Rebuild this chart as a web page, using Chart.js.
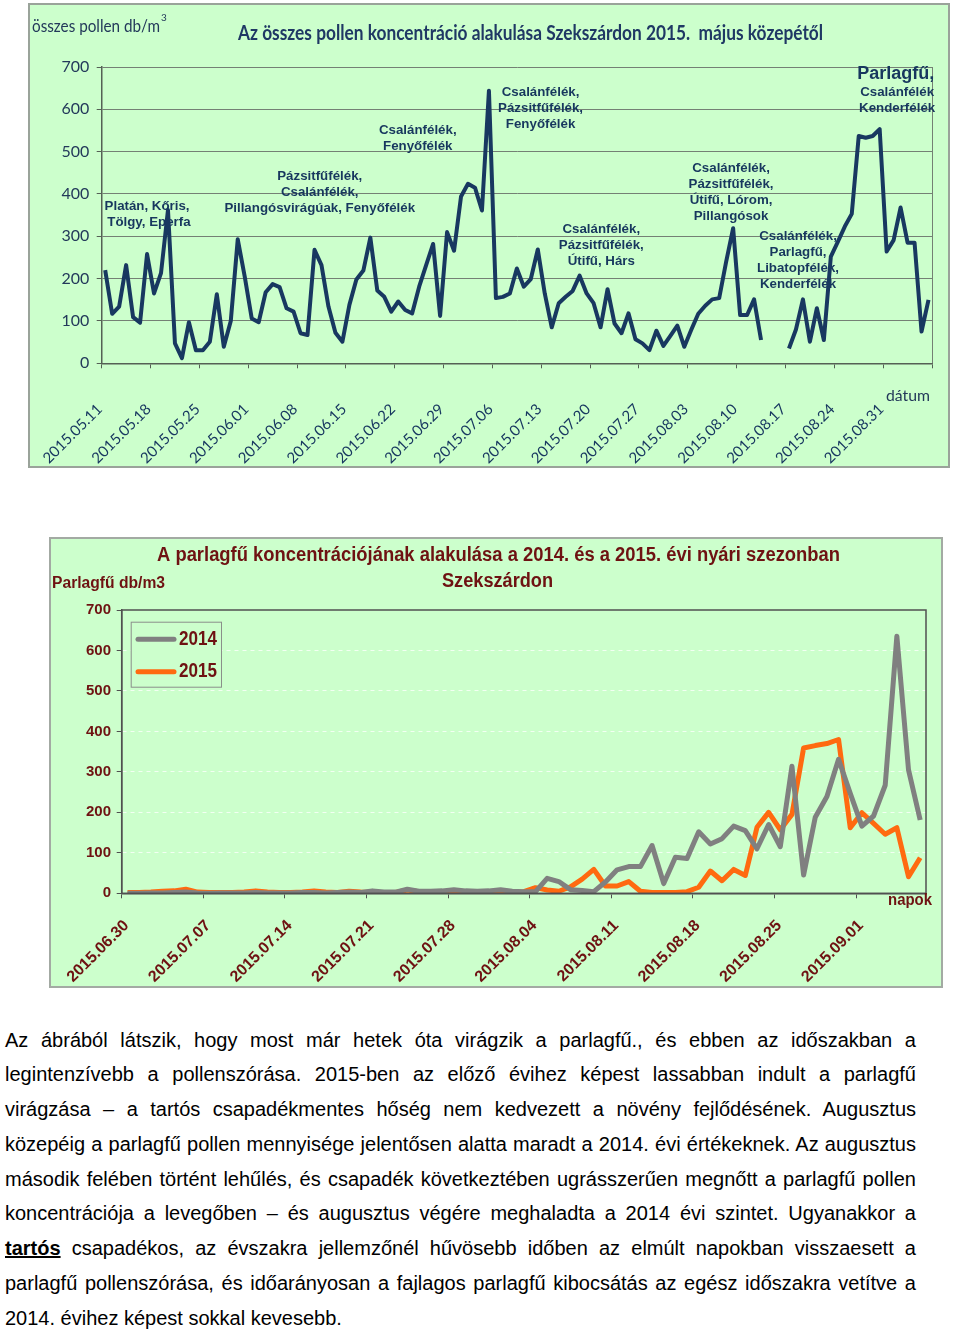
<!DOCTYPE html>
<html><head><meta charset="utf-8">
<script src="https://cdn.jsdelivr.net/npm/chart.js@4.4.1/dist/chart.umd.min.js"></script>
<style>
html,body{margin:0;padding:0;background:#fff;}
body{width:960px;height:1331px;position:relative;overflow:hidden;}
.box{position:absolute;box-sizing:border-box;}
#b1{left:28px;top:3px;width:922px;height:465px;border:2px solid #9aa39a;background:#ccffcc;}
#c1{position:absolute;left:28px;top:3px;}
#b2{left:49px;top:537px;width:894px;height:451px;border:2px solid #a3aaa3;background:#ccffcc;}
#c2{position:absolute;left:49px;top:537px;}
#txt{position:absolute;left:5px;top:1022.6px;width:911px;font-family:"Liberation Sans",Arial,sans-serif;font-size:20px;color:#000;}
#txt div{height:34.75px;line-height:34.75px;text-align:justify;text-align-last:justify;white-space:nowrap;}
#txt div.last{text-align-last:left;}
#txt b{text-decoration:underline;}
</style>
</head><body>
<div class="box" id="b1"></div>
<canvas id="c1" width="922" height="465"></canvas>
<div class="box" id="b2"></div>
<canvas id="c2" width="894" height="451"></canvas>
<div id="txt">
<div>Az ábrából látszik, hogy most már hetek óta virágzik a parlagfű., és ebben az időszakban a</div>
<div>legintenzívebb a pollenszórása. 2015-ben az előző évihez képest lassabban indult a parlagfű</div>
<div>virágzása – a tartós csapadékmentes hőség nem kedvezett a növény fejlődésének. Augusztus</div>
<div>közepéig a parlagfű pollen mennyisége jelentősen alatta maradt a 2014. évi értékeknek. Az augusztus</div>
<div>második felében történt lehűlés, és csapadék következtében ugrásszerűen megnőtt a parlagfű pollen</div>
<div>koncentrációja a levegőben – és augusztus végére meghaladta a 2014 évi szintet. Ugyanakkor a</div>
<div><b>tartós</b> csapadékos, az évszakra jellemzőnél hűvösebb időben az elmúlt napokban visszaesett a</div>
<div>parlagfű pollenszórása, és időarányosan a fajlagos parlagfű kibocsátás az egész időszakra vetítve a</div>
<div class="last">2014. évihez képest sokkal kevesebb.</div>
</div>
<script>
// ---------- DATA: chart 1 (összes pollen, 2015) ----------
const days1 = [
'2015.05.11','2015.05.12','2015.05.13','2015.05.14','2015.05.15','2015.05.16','2015.05.17','2015.05.18','2015.05.19','2015.05.20',
'2015.05.21','2015.05.22','2015.05.23','2015.05.24','2015.05.25','2015.05.26','2015.05.27','2015.05.28','2015.05.29','2015.05.30',
'2015.05.31','2015.06.01','2015.06.02','2015.06.03','2015.06.04','2015.06.05','2015.06.06','2015.06.07','2015.06.08','2015.06.09',
'2015.06.10','2015.06.11','2015.06.12','2015.06.13','2015.06.14','2015.06.15','2015.06.16','2015.06.17','2015.06.18','2015.06.19',
'2015.06.20','2015.06.21','2015.06.22','2015.06.23','2015.06.24','2015.06.25','2015.06.26','2015.06.27','2015.06.28','2015.06.29',
'2015.06.30','2015.07.01','2015.07.02','2015.07.03','2015.07.04','2015.07.05','2015.07.06','2015.07.07','2015.07.08','2015.07.09',
'2015.07.10','2015.07.11','2015.07.12','2015.07.13','2015.07.14','2015.07.15','2015.07.16','2015.07.17','2015.07.18','2015.07.19',
'2015.07.20','2015.07.21','2015.07.22','2015.07.23','2015.07.24','2015.07.25','2015.07.26','2015.07.27','2015.07.28','2015.07.29',
'2015.07.30','2015.07.31','2015.08.01','2015.08.02','2015.08.03','2015.08.04','2015.08.05','2015.08.06','2015.08.07','2015.08.08',
'2015.08.09','2015.08.10','2015.08.11','2015.08.12','2015.08.13','2015.08.14','2015.08.15','2015.08.16','2015.08.17','2015.08.18',
'2015.08.19','2015.08.20','2015.08.21','2015.08.22','2015.08.23','2015.08.24','2015.08.25','2015.08.26','2015.08.27','2015.08.28',
'2015.08.29','2015.08.30','2015.08.31','2015.09.01','2015.09.02','2015.09.03','2015.09.04','2015.09.05','2015.09.06'];
const pollen2015 = [
220,117,134,232,109,96,258,165,213,362,
47,12,97,31,31,51,163,39,100,293,
205,106,97,168,187,180,130,122,71,67,
268,232,134,72,51,138,198,219,297,172,
157,122,146,126,118,181,232,282,112,310,
266,394,424,415,361,644,154,157,165,224,
181,199,269,165,85,142,157,171,207,165,
142,85,175,94,71,118,57,47,31,77,
41,65,89,39,79,117,136,151,154,240,
319,114,114,151,55,null,null,null,35,80,
151,51,130,55,252,287,323,353,537,533,
537,553,264,291,368,285,285,75,150];
const ticks1 = ['2015.05.11','2015.05.18','2015.05.25','2015.06.01','2015.06.08','2015.06.15','2015.06.22','2015.06.29',
'2015.07.06','2015.07.13','2015.07.20','2015.07.27','2015.08.03','2015.08.10','2015.08.17','2015.08.24','2015.08.31'];
const yTicks = [0,100,200,300,400,500,600,700];

// ---------- DATA: chart 2 (parlagfű 2014 vs 2015) ----------
const days2 = [
'2015.06.30','2015.07.01','2015.07.02','2015.07.03','2015.07.04','2015.07.05','2015.07.06','2015.07.07','2015.07.08','2015.07.09',
'2015.07.10','2015.07.11','2015.07.12','2015.07.13','2015.07.14','2015.07.15','2015.07.16','2015.07.17','2015.07.18','2015.07.19',
'2015.07.20','2015.07.21','2015.07.22','2015.07.23','2015.07.24','2015.07.25','2015.07.26','2015.07.27','2015.07.28','2015.07.29',
'2015.07.30','2015.07.31','2015.08.01','2015.08.02','2015.08.03','2015.08.04','2015.08.05','2015.08.06','2015.08.07','2015.08.08',
'2015.08.09','2015.08.10','2015.08.11','2015.08.12','2015.08.13','2015.08.14','2015.08.15','2015.08.16','2015.08.17','2015.08.18',
'2015.08.19','2015.08.20','2015.08.21','2015.08.22','2015.08.23','2015.08.24','2015.08.25','2015.08.26','2015.08.27','2015.08.28',
'2015.08.29','2015.08.30','2015.08.31','2015.09.01','2015.09.02','2015.09.03','2015.09.04','2015.09.05','2015.09.06'];
const ragweed2014 = [
0,0,1,1,2,3,1,0,1,1,
1,2,1,1,1,2,2,1,2,3,
2,6,3,3,10,5,5,6,9,6,
5,6,9,5,4,4,37,29,9,7,
4,28,58,66,66,118,24,89,86,152,
122,135,166,155,110,170,115,314,45,188,
239,331,247,166,191,267,635,305,181];
const ragweed2015 = [
2,2,3,5,6,10,3,2,2,2,
3,6,3,2,2,3,6,3,2,5,
3,2,2,2,8,4,3,3,3,3,
3,3,3,3,4,14,8,5,16,35,
59,18,18,29,5,2,2,2,4,15,
55,31,59,44,163,200,157,195,359,365,
370,380,162,199,173,146,162,41,88];
const ticks2 = ['2015.06.30','2015.07.07','2015.07.14','2015.07.21','2015.07.28','2015.08.04','2015.08.11','2015.08.18','2015.08.25','2015.09.01'];
const series2 = ['2014','2015'];

// ---------- texts ----------
const notes1 = [
 {n:6.0,  v:370,   lines:['Platán, Kőris,',' Tölgy, Eperfa']},
 {n:30.75,v:442,   lines:['Pázsitfűfélék,','Csalánfélék,','Pillangósvirágúak, Fenyőfélék']},
 {n:44.8, v:549.5, lines:['Csalánfélék,','Fenyőfélék']},
 {n:62.4, v:639,   lines:['Csalánfélék,','Pázsitfűfélék,','Fenyőfélék']},
 {n:71.1, v:317,   lines:['Csalánfélék,','Pázsitfűfélék,','Útifű, Hárs']},
 {n:89.7, v:461,   lines:['Csalánfélék,','Pázsitfűfélék,','Útifű, Lórom,','Pillangósok']},
 {n:99.3, v:299,   lines:['Csalánfélék,','Parlagfű,','Libatopfélék,','Kenderfélék']},
 {n:113.3,v:683,   lines:['Parlagfű,'], size:18},
 {n:113.5,v:641,   lines:['Csalánfélék','Kenderfélék']}
];

const NAVY = '#183860';
const TXT1 = '#23395a';
const RED = '#6e1212';
const ARIAL = '"Liberation Sans", Arial, sans-serif';

function fitText(ctx, text, x, y, w, font, color){
  ctx.save();
  ctx.font = font; ctx.fillStyle = color; ctx.textAlign='left'; ctx.textBaseline='middle';
  const m = ctx.measureText(text).width;
  ctx.translate(x, y); ctx.scale(w / m, 1); ctx.fillText(text, 0, 0);
  ctx.restore();
}
function noPad(s){ s.paddingLeft = 0; s.paddingRight = 0; }

const deco1 = {
  id:'deco1',
  beforeDatasetsDraw(chart){
    const {ctx, chartArea:a, scales:{x,y}} = chart;
    ctx.save();
    ctx.strokeStyle='#748074'; ctx.lineWidth=1;
    ctx.beginPath(); ctx.moveTo(a.right+0.5, a.top); ctx.lineTo(a.right+0.5, a.bottom); ctx.stroke();
    ctx.fillStyle = '#17375e'; ctx.textAlign='center'; ctx.textBaseline='middle';
    notes1.forEach(nt=>{
      ctx.font = `bold ${nt.size||13.3}px ${ARIAL}`;
      const px = x.getPixelForValue(nt.n), py = y.getPixelForValue(nt.v);
      nt.lines.forEach((l,i)=>ctx.fillText(l, px, py + i*16));
    });
    ctx.restore();
  },
  afterDraw(chart){
    const ctx = chart.ctx;
    fitText(ctx, 'Az összes pollen koncentráció alakulása Szekszárdon 2015.  május közepétől', 210, 31, 585, 'bold 20px Lato', '#1f3864');
    fitText(ctx, 'összes pollen db/m', 4, 24, 128, '17px Lato', TXT1);
    ctx.save(); ctx.font='10px Lato'; ctx.fillStyle=TXT1; ctx.textBaseline='middle'; ctx.fillText('3', 133, 15); ctx.restore();
    fitText(ctx, 'dátum', 858, 393, 44, '16px Lato', TXT1);
  }
};

new Chart(document.getElementById('c1'), {
  type:'line',
  data:{ labels: days1, datasets:[{ label:'összes pollen db/m3', data: pollen2015, borderColor: NAVY, borderWidth:4,
         pointRadius:0, tension:0, spanGaps:false, fill:false, borderJoinStyle:'round' }]},
  options:{
    responsive:false, animation:false, events:[],
    layout:{ padding:{ left:0, top:64, right:18, bottom:0 } },
    plugins:{ legend:{display:false}, tooltip:{enabled:false}, title:{display:false} },
    scales:{
      x:{ type:'category', offset:true,
          grid:{ offset:true, drawOnChartArea:false, drawTicks:true, tickLength:5,
                 color: c => (c.index===undefined || c.index%7===0) ? '#556055' : 'rgba(0,0,0,0)',
                 tickColor: c => (c.index===undefined || c.index%7===0) ? '#556055' : 'rgba(0,0,0,0)' },
          border:{ display:true, color:'#556055', width:1.5 },
          ticks:{ autoSkip:false, maxRotation:45, minRotation:45, padding:32, labelOffset:-5.5,
                  color: NAVY, font:{ family:'Lato', size:15 },
                  callback:(v,i)=> ticks1.includes(days1[i]) ? days1[i] : '' },
          afterFit: s => { s.height = 104.7; noPad(s); } },
      y:{ min:0, max:700,
          afterBuildTicks: s => { s.ticks = yTicks.map(v=>({value:v})); },
          ticks:{ padding:7.4, color: TXT1, font:{ family:'Lato', size:16 } },
          grid:{ color:'#748074', lineWidth:1, tickLength:5, drawTicks:true, tickColor:'#556055' },
          border:{ display:true, color:'#556055', width:1.5 },
          afterFit: s => { s.width = 73.7; } }
    }
  },
  plugins:[deco1]
});

// ---------- chart 2 ----------
const deco2 = {
  id:'deco2',
  afterDatasetsDraw(chart){
    const {ctx, chartArea:a} = chart;
    ctx.save();
    ctx.strokeStyle='#505050'; ctx.lineWidth=1.5;
    ctx.strokeRect(a.left, a.top, a.right-a.left, a.bottom-a.top);
    // legend
    const lx=81.7, ly=84.7, lw=90.3, lh=65;
    ctx.fillStyle='#ccffcc'; ctx.fillRect(lx,ly,lw,lh);
    ctx.strokeStyle='#8a8f8a'; ctx.lineWidth=1; ctx.strokeRect(lx+0.5,ly+0.5,lw,lh);
    chart.data.datasets.forEach((ds,i)=>{
      const yy = 102.3 + i*32.4;
      ctx.strokeStyle = ds.borderColor; ctx.lineWidth=5; ctx.lineCap='round';
      ctx.beginPath(); ctx.moveTo(89, yy); ctx.lineTo(125, yy); ctx.stroke();
      fitText(ctx, ds.label, 130, yy, 38, `bold 21px ${ARIAL}`, RED);
    });
    ctx.restore();
  },
  afterDraw(chart){
    const ctx = chart.ctx;
    fitText(ctx, 'A parlagfű koncentrációjának alakulása a 2014. és a 2015. évi nyári szezonban', 108, 18, 683, `bold 20px ${ARIAL}`, RED);
    fitText(ctx, 'Szekszárdon', 393, 44, 111, `bold 20px ${ARIAL}`, RED);
    fitText(ctx, 'Parlagfű db/m3', 3, 47, 113, `bold 16px ${ARIAL}`, RED);
    fitText(ctx, 'napok', 839, 364, 44, `bold 16px ${ARIAL}`, RED);
  }
};

new Chart(document.getElementById('c2'), {
  type:'line',
  data:{ labels: days2, datasets:[
    { label: series2[0], data: ragweed2014, borderColor:'#808080', borderWidth:5, pointRadius:0, tension:0, fill:false, borderJoinStyle:'round' },
    { label: series2[1], data: ragweed2015, borderColor:'#ff6a10', borderWidth:5, pointRadius:0, tension:0, fill:false, borderJoinStyle:'round' }
  ]},
  options:{
    responsive:false, animation:false, events:[],
    layout:{ padding:{ left:0, top:73, right:17, bottom:0 } },
    plugins:{ legend:{display:false}, tooltip:{enabled:false}, title:{display:false} },
    scales:{
      x:{ type:'category', offset:true,
          grid:{ offset:true, drawOnChartArea:false, drawTicks:true, tickLength:5,
                 color: c => (c.index!==undefined && c.index%7===0) ? '#505050' : 'rgba(0,0,0,0)',
                 tickColor: c => (c.index!==undefined && c.index%7===0) ? '#505050' : 'rgba(0,0,0,0)' },
          border:{ display:true, color:'#505050', width:1.5 },
          ticks:{ autoSkip:false, maxRotation:45, minRotation:45, padding:18, labelOffset:-1,
                  color: RED, font:{ family:'Liberation Sans', size:16, weight:'bold' },
                  callback:(v,i)=> ticks2.includes(days2[i]) ? days2[i] : '' },
          afterFit: s => { s.height = 94.7; noPad(s); } },
      y:{ min:0, max:700,
          afterBuildTicks: s => { s.ticks = yTicks.map(v=>({value:v})); },
          ticks:{ padding:5.7, color: RED, font:{ family:'Liberation Sans', size:15, weight:'bold' } },
          grid:{ color: c => (c.tick && (c.tick.value===0 || c.tick.value===700)) ? 'rgba(0,0,0,0)' : 'rgba(255,255,255,0.75)',
                 lineWidth:1, tickLength:5, drawTicks:true, tickColor:'#505050' },
          border:{ display:true, color:'#505050', width:1.5, dash:[4,4] },
          afterFit: s => { s.width = 72.7; } }
    }
  },
  plugins:[deco2]
});
</script>
</body></html>
